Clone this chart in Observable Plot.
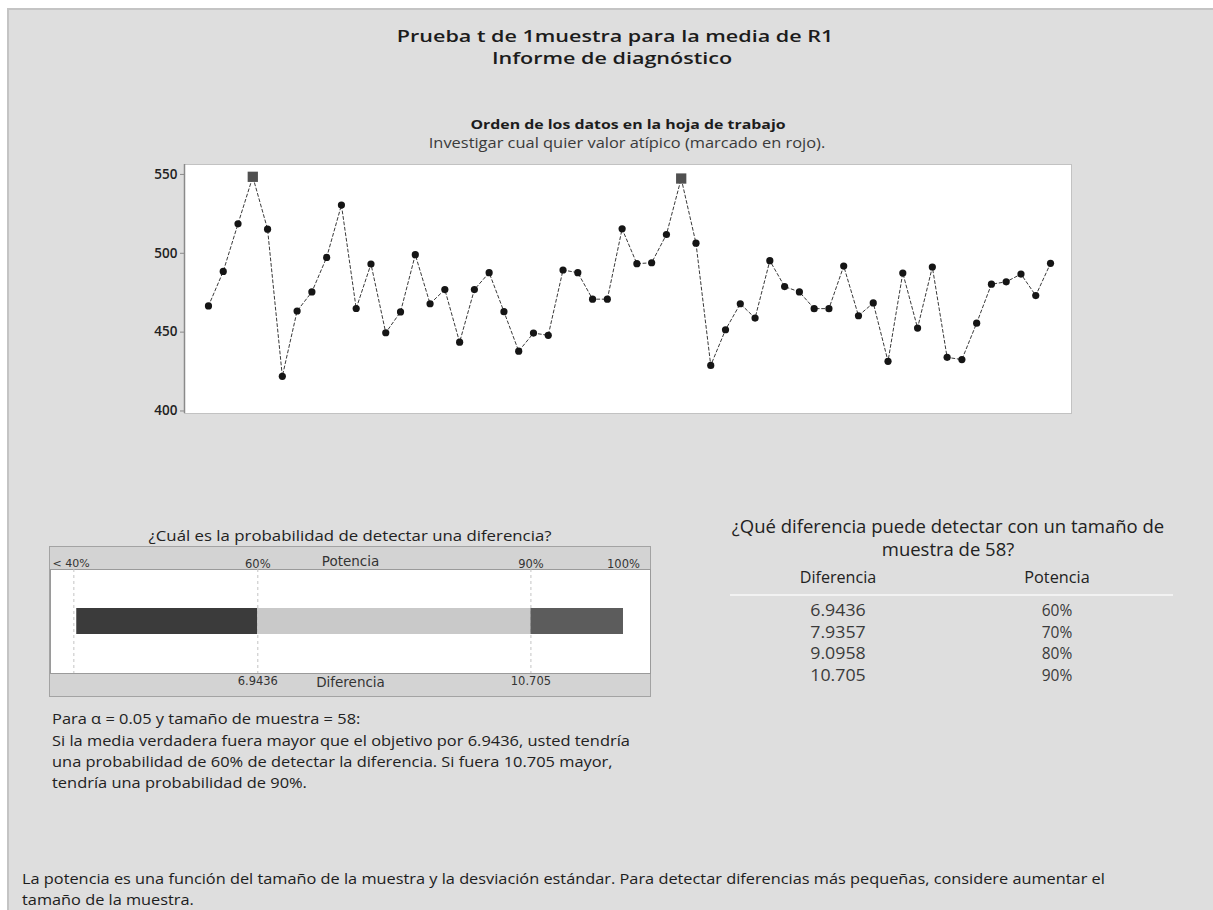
<!DOCTYPE html>
<html><head><meta charset="utf-8">
<script src="https://cdn.jsdelivr.net/npm/d3@7"></script>
<script src="https://cdn.jsdelivr.net/npm/@observablehq/plot@0.6"></script>
<style>
body{margin:0;background:#fff;font-family:"Open Sans","Noto Sans",sans-serif;width:1213px;height:910px;overflow:hidden;}
#page{position:absolute;left:7px;top:8px;width:1206px;height:902px;background:#dedede;border-left:2px solid #c4c4c4;border-top:2px solid #c4c4c4;box-sizing:border-box;}
.t{position:absolute;white-space:nowrap;color:#1c1c1c;line-height:1;}
.box{position:absolute;}
</style></head><body>
<div id="page"></div>
<script>
// ---------- data ----------
const r1Values = [466.6, 488.5, 518.7, 548.5, 515.3, 422.0, 463.4, 475.5, 497.4, 530.6,
  465.0, 493.2, 449.6, 462.8, 499.1, 468.0, 477.0, 443.6, 477.0, 487.7,
  463.0, 437.9, 449.4, 448.0, 489.4, 487.7, 470.9, 470.9, 515.5, 493.4,
  494.0, 511.9, 547.4, 506.4, 428.9, 451.5, 468.0, 458.9, 495.3, 478.9,
  475.5, 464.9, 464.9, 491.9, 460.4, 468.5, 431.5, 487.5, 452.6, 491.3,
  434.0, 432.6, 455.7, 480.4, 481.9, 486.8, 473.2, 493.6];
const outlierRows = [4, 33];
const yTicks = [400, 450, 500, 550];

const powerLabels = ["< 40%", "60%", "90%", "100%"];
const powerAtDiff = [4.41, 6.9436, 10.705, 11.98];   // where each power label sits on the difference scale
const diffLabels = [6.9436, 10.705];
const segmentNames = ["< 60%", "60% - 90%", "> 90%"];
const segmentColors = ["#3b3b3b", "#c9c9c9", "#5c5c5c"];

const tableDiff = ["6.9436", "7.9357", "9.0958", "10.705"];
const tablePower = ["60%", "70%", "80%", "90%"];

// ---------- helpers ----------
function addText(str, x, y, o = {}) {
  const d = document.createElement("div");
  d.className = "t";
  d.textContent = str;
  d.style.left = x + "px";
  d.style.top = y + "px";
  d.style.fontSize = (o.size || 13) + "px";
  if (o.weight) d.style.fontWeight = o.weight;
  if (o.color) d.style.color = o.color;
  document.body.appendChild(d);
  let sx = o.scale || 1;
  if (o.width) sx = o.width / d.offsetWidth;
  const start = o.anchor === "start";
  d.style.transformOrigin = start ? "left center" : "center center";
  d.style.transform = `translate(${start ? "0" : "-50%"},-50%) scaleX(${sx})`;
  return sx;
}
function place(node, x, y) {
  const w = document.createElement("div");
  w.className = "box";
  w.style.left = x + "px";
  w.style.top = y + "px";
  w.appendChild(node);
  document.body.appendChild(w);
  return w;
}

// ---------- titles ----------
const ts = addText("Prueba t de 1muestra para la media de R1", 615, 35, {size: 17, weight: 600, width: 436});
addText("Informe de diagnóstico", 612, 57, {size: 17, weight: 600, scale: ts});
addText("Orden de los datos en la hoja de trabajo", 628, 124, {size: 13, weight: 700, width: 315});
addText("Investigar cual quier valor atípico (marcado en rojo).", 627, 143, {size: 14, color: "#3a3a3a", width: 396});

// ---------- main chart ----------
const rows = r1Values.map((v, i) => ({row: i + 1, value: v, outlier: outlierRows.includes(i + 1)}));
const xDom = [1 - 24 / 14.79, r1Values.length + 21 / 14.79];
const yDom = [398.4, 556.3];
const mainChart = Plot.plot({
  width: 1071 - 140, height: 413 - 164,
  marginLeft: 44, marginRight: 0, marginTop: 0, marginBottom: 0,
  style: {background: "transparent", fontFamily: "'Open Sans', sans-serif", overflow: "visible"},
  x: {domain: xDom, axis: null},
  y: {domain: yDom, axis: null},
  marks: [
    Plot.frame({fill: "white", stroke: "#c2c2c2"}),
    Plot.ruleX([xDom[0]], {stroke: "#8a8a8a", strokeWidth: 1.5}),
    Plot.axisY({ticks: yTicks, tickSize: 4, tickPadding: 3, fontSize: 13.5, fontWeight: 600, stroke: "#8a8a8a", color: "#222", label: null}),
    Plot.line(rows, {x: "row", y: "value", stroke: "#3a3a3a", strokeWidth: 1, strokeDasharray: "3,2.5"}),
    Plot.dot(rows.filter(d => !d.outlier), {x: "row", y: "value", r: 3.6, fill: "#151515"}),
    Plot.dot(rows.filter(d => d.outlier), {x: "row", y: "value", symbol: "square", r: 5.8, fill: "#505050"})
  ]
});
place(mainChart, 140, 164);

// ---------- power bar ----------
addText("¿Cuál es la probabilidad de detectar una diferencia?", 350, 535, {size: 15, color: "#222", width: 403});
const segs = segmentNames.map((n, i) => ({name: n, x1: powerAtDiff[i], x2: powerAtDiff[i + 1]}));
segs[0].x1 = powerAtDiff[0] + 0.04;
const pTicks = powerLabels.map((l, i) => ({label: l, at: powerAtDiff[i]}));
const pxDom = [4.0884, 12.352];
const powerChart = Plot.plot({
  width: 600, height: 149,
  marginLeft: 0, marginRight: 0, marginTop: 22, marginBottom: 23,
  style: {background: "#d3d3d3", fontFamily: "'DejaVu Sans', sans-serif", overflow: "visible"},
  x: {domain: pxDom, axis: null},
  y: {domain: ["bar"], axis: null, padding: 0},
  color: {domain: segmentNames, range: segmentColors},
  marks: [
    Plot.frame({fill: "white", stroke: "#9a9a9a"}),
    Plot.ruleX(powerAtDiff.slice(0, 3), {stroke: "#c4c4c4", strokeDasharray: "3,3"}),
    Plot.barX(segs, {x1: "x1", x2: "x2", y: () => "bar", fill: "name", insetTop: 39, insetBottom: 39}),
    Plot.text(pTicks.slice(0, 1), {text: "label", frameAnchor: "top-left", textAnchor: "start", dx: 2, dy: -10, fontSize: 11, fill: "#333"}),
    Plot.text(pTicks.slice(1), {x: "at", text: "label", frameAnchor: "top", dy: -10, fontSize: 11.5, fill: "#333"}),
    Plot.text(["Potencia"], {frameAnchor: "top", dy: -13, fontSize: 13.5, fill: "#333"}),
    Plot.text(diffLabels, {x: d => d, text: d => String(d), frameAnchor: "bottom", dy: 11, fontSize: 11.5, fill: "#333"}),
    Plot.text(["Diferencia"], {frameAnchor: "bottom", dy: 13, fontSize: 13.5, fill: "#333"})
  ]
});
const pw = place(powerChart, 49, 546);
pw.style.border = "1px solid #a3a3a3";
pw.style.lineHeight = "0";

// ---------- table ----------
const tt = addText("¿Qué diferencia puede detectar con un tamaño de", 948, 527, {size: 17.5, color: "#222", width: 432});
addText("muestra de 58?", 948, 550, {size: 17.5, color: "#222", scale: tt});
addText("Diferencia", 838, 578, {size: 15.5, color: "#222", width: 77});
addText("Potencia", 1057, 578, {size: 15.5, color: "#222", width: 65});
const sep = document.createElement("div");
sep.style.cssText = "position:absolute;left:730px;top:594px;width:443px;height:2px;background:#f2f2f2;";
document.body.appendChild(sep);
tableDiff.forEach((v, i) => {
  addText(v, 838, 611 + i * 21.7, {size: 15.5, color: "#3a3a3a", width: 55});
  addText(tablePower[i], 1057, 611 + i * 21.7, {size: 15.5, color: "#3a3a3a"});
});

// ---------- explanatory text ----------
const ps = addText("Si la media verdadera fuera mayor que el objetivo por 6.9436, usted tendría", 52, 739.5, {size: 15, anchor: "start", color: "#222", width: 578});
addText("Para α = 0.05 y tamaño de muestra = 58:", 52, 718, {size: 15, anchor: "start", color: "#222", scale: ps});
addText("una probabilidad de 60% de detectar la diferencia. Si fuera 10.705 mayor,", 52, 761, {size: 15, anchor: "start", color: "#222", scale: ps});
addText("tendría una probabilidad de 90%.", 52, 782, {size: 15, anchor: "start", color: "#222", scale: ps});

const bs = addText("La potencia es una función del tamaño de la muestra y la desviación estándar. Para detectar diferencias más pequeñas, considere aumentar el", 22, 879, {size: 14.5, anchor: "start", color: "#1c1c1c", width: 1083});
addText("tamaño de la muestra.", 22, 900, {size: 14.5, anchor: "start", color: "#1c1c1c", scale: bs});
</script>
</body></html>
